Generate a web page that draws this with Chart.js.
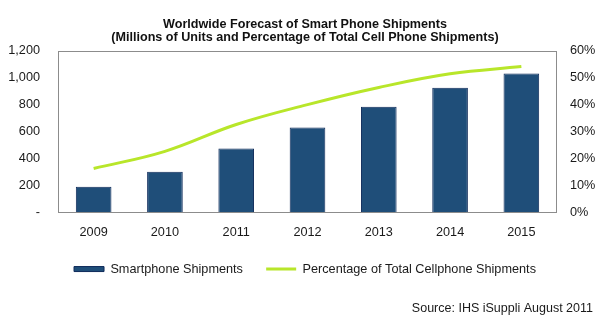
<!DOCTYPE html>
<html lang="en">
  <head>
    <meta charset="UTF-8" />
    <title>Worldwide Forecast of Smart Phone Shipments</title>
    <script src="https://cdn.jsdelivr.net/npm/chart.js@4.4.1/dist/chart.umd.min.js"></script>
    <style>
      body {
        margin: 0;
        background: #fff;
      }
    </style>
  </head>
  <body>
    <canvas id="chart" width="610" height="322"></canvas>
    <script>
      const years = ["2009", "2010", "2011", "2012", "2013", "2014", "2015"];
      // millions of units
      const shipments = [188, 299, 474, 630, 785, 926, 1032];
      // share of total cellphone shipments, %
      const share = [16.2, 22.6, 32.6, 40, 46.4, 51.5, 54.2];
      const source = "Source: IHS iSuppli August 2011";

      const font = "'Liberation Sans', Arial, sans-serif";
      const textColor = "#1a1a1a";

      // grey box around the plot area
      const frame = {
        id: "frame",
        afterDatasetsDraw(chart) {
          const { ctx, chartArea: a } = chart;
          ctx.save();
          ctx.strokeStyle = "#8c8c8c";
          ctx.lineWidth = 1;
          ctx.strokeRect(Math.round(a.left) + 0.5, Math.round(a.top) + 0.5, Math.round(a.width) - 1, Math.round(a.height));
          ctx.restore();
        },
      };

      // source note, bottom right
      const sourceNote = {
        id: "sourceNote",
        afterDraw(chart) {
          const ctx = chart.ctx;
          ctx.save();
          ctx.font = "12.5px " + font;
          ctx.fillStyle = textColor;
          ctx.textAlign = "right";
          ctx.textBaseline = "middle";
          ctx.fillText(source, 593, 309);
          ctx.restore();
        },
      };

      new Chart(document.getElementById("chart"), {
        data: {
          labels: years,
          datasets: [
            {
              type: "line",
              label: "Percentage of Total Cellphone Shipments",
              data: share,
              yAxisID: "y1",
              borderColor: "#b8e62a",
              backgroundColor: "#b8e62a",
              borderWidth: 3,
              pointRadius: 0,
              pointStyle: "line",
              tension: 0.4,
              order: 0,
            },
            {
              type: "bar",
              label: "Smartphone Shipments",
              data: shipments,
              yAxisID: "y",
              backgroundColor: "#1f4e79",
              borderColor: "#0e2a5a",
              borderWidth: 1,
              pointStyle: "rect",
              barPercentage: 0.5,
              categoryPercentage: 1,
              order: 1,
            },
          ],
        },
        options: {
          responsive: false,
          animation: false,
          layout: { padding: { left: 0, right: 0, top: 0, bottom: 36.6 } },
          plugins: {
            title: {
              display: true,
              text: [
                "Worldwide Forecast of Smart Phone Shipments",
                "(Millions of Units and Percentage of Total Cell Phone Shipments)",
              ],
              color: "#111",
              font: { family: font, size: 12.6, weight: "bold", lineHeight: 1.05 },
              padding: { top: 18, bottom: 6.5 },
            },
            legend: {
              position: "bottom",
              reverse: true,
              labels: {
                usePointStyle: true,
                pointStyleWidth: 30,
                boxHeight: 5,
                padding: 23.2,
                color: textColor,
                font: { family: font, size: 12.7 },
              },
            },
            tooltip: { enabled: false },
          },
          scales: {
            x: {
              grid: { display: false, drawTicks: false },
              border: { display: false },
              ticks: { color: textColor, font: { family: font, size: 12.7 }, padding: 12.4 },
              afterFit: s => {
                s.height = 27.5;
              },
            },
            y: {
              position: "left",
              min: 0,
              max: 1200,
              grid: { display: false, drawTicks: false },
              border: { display: false },
              ticks: {
                stepSize: 200,
                padding: 18,
                color: textColor,
                font: { family: font, size: 12.7 },
                callback: v => (v === 0 ? "-" : v.toLocaleString("en-US")),
              },
              afterFit: s => {
                s.width = 58;
              },
            },
            y1: {
              position: "right",
              min: 0,
              max: 60,
              grid: { display: false, drawTicks: false },
              border: { display: false },
              ticks: {
                stepSize: 10,
                padding: 13,
                color: textColor,
                font: { family: font, size: 12.7 },
                callback: v => v + "%",
              },
              afterFit: s => {
                s.width = 53;
              },
            },
          },
        },
        plugins: [frame, sourceNote],
      });
    </script>
  </body>
</html>
